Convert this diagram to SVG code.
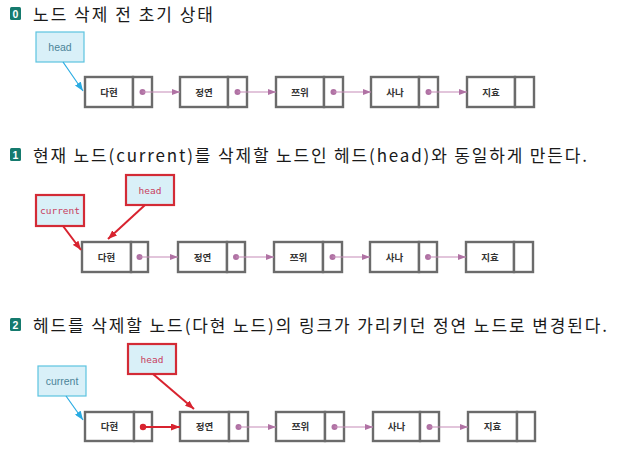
<svg xmlns="http://www.w3.org/2000/svg" width="619" height="452" viewBox="0 0 619 452">
<defs>
<marker id="mPur" markerWidth="8" markerHeight="6" refX="8" refY="3" orient="auto" markerUnits="userSpaceOnUse"><path d="M0,0 L8,3 L0,6 z" fill="#b072a4"/></marker>
<marker id="mRed" markerWidth="9" markerHeight="7" refX="9" refY="3.5" orient="auto" markerUnits="userSpaceOnUse"><path d="M0,0 L9,3.5 L0,7 z" fill="#d8232f"/></marker>
<marker id="mBlue" markerWidth="9" markerHeight="7" refX="9" refY="3.5" orient="auto" markerUnits="userSpaceOnUse"><path d="M0,0 L9,3.5 L0,7 z" fill="#29abe2"/></marker>
</defs>
<style>
.title{font-family:"Noto Sans CJK KR","Noto Sans",sans-serif;font-size:17px;fill:#1a1a1a}
.badge{fill:#157a6e}
.bnum{font-family:"Liberation Sans",sans-serif;font-size:10.5px;font-weight:bold;fill:#fff}
.cell{fill:#fff;stroke:#6b6b6b;stroke-width:2.4}
.lbl{font-family:"Noto Sans CJK KR",sans-serif;font-size:9.5px;font-weight:bold;fill:#333}
.bbox{fill:#d9f0f8;stroke:#5cc3e0;stroke-width:1.2}
.rbox{fill:#d9f0f8;stroke:#d32b36;stroke-width:2.2}
.btxt{font-family:"Liberation Sans","Noto Sans",sans-serif;font-size:10.5px;fill:#4b8499}
.rtxt{font-family:"DejaVu Sans Mono",monospace;font-size:9.5px;fill:#c84060}
.plink{stroke:#c58bb8;stroke-width:1.2;fill:none;marker-end:url(#mPur)}
.rlink{stroke:#d8232f;stroke-width:2;fill:none;marker-end:url(#mRed)}
.blink{stroke:#29abe2;stroke-width:1.2;fill:none;marker-end:url(#mBlue)}
.dot{fill:#b072a4}
.rdot{fill:#d8232f}
</style>

<!-- Titles -->
<g id="title0"><rect class="badge" x="10" y="7" width="11" height="13" rx="1.5"/><text class="bnum" x="15.5" y="17.5" text-anchor="middle">0</text><text class="title" x="33" y="21" textLength="180" lengthAdjust="spacing">노드 삭제 전 초기 상태</text></g>
<g id="title1"><rect class="badge" x="10" y="148" width="11" height="13" rx="1.5"/><text class="bnum" x="15.5" y="158.5" text-anchor="middle">1</text><text class="title" x="33" y="162" textLength="554" lengthAdjust="spacing">현재 노드(current)를 삭제할 노드인 헤드(head)와 동일하게 만든다.</text></g>
<g id="title2"><rect class="badge" x="10" y="318" width="11" height="13" rx="1.5"/><text class="bnum" x="15.5" y="328.5" text-anchor="middle">2</text><text class="title" x="33" y="332" textLength="574" lengthAdjust="spacing">헤드를 삭제할 노드(다현 노드)의 링크가 가리키던 정연 노드로 변경된다.</text></g>

<!-- Section 0 -->
<g id="s0-head"><rect class="bbox" x="36" y="32" width="48" height="30"/><text class="btxt" x="60" y="50.5" text-anchor="middle">head</text></g>
<g id="s0-n1"><rect class="cell" x="85" y="77" width="48" height="30"/><rect class="cell" x="133" y="77" width="19" height="30"/><text class="lbl" x="109" y="95.5" text-anchor="middle">다현</text></g>
<g id="s0-n2"><rect class="cell" x="180" y="77" width="48" height="30"/><rect class="cell" x="228" y="77" width="19" height="30"/><text class="lbl" x="204" y="95.5" text-anchor="middle">정연</text></g>
<g id="s0-n3"><rect class="cell" x="276" y="77" width="48" height="30"/><rect class="cell" x="324" y="77" width="19" height="30"/><text class="lbl" x="300" y="95.5" text-anchor="middle">쯔위</text></g>
<g id="s0-n4"><rect class="cell" x="371" y="77" width="48" height="30"/><rect class="cell" x="419" y="77" width="19" height="30"/><text class="lbl" x="395" y="95.5" text-anchor="middle">사나</text></g>
<g id="s0-n5"><rect class="cell" x="467" y="77" width="48" height="30"/><rect class="cell" x="515" y="77" width="19" height="30"/><text class="lbl" x="491" y="95.5" text-anchor="middle">지효</text></g>

<!-- Section 1 -->
<g id="s1-current"><rect class="rbox" x="36" y="195" width="48" height="31"/><text class="rtxt" x="60" y="214" text-anchor="middle">current</text></g>
<g id="s1-head"><rect class="rbox" x="126" y="175" width="48" height="30"/><text class="rtxt" x="150" y="193.5" text-anchor="middle">head</text></g>
<g id="s1-n1"><rect class="cell" x="82" y="242" width="49" height="30"/><rect class="cell" x="131" y="242" width="17" height="30"/><text class="lbl" x="106.5" y="260.5" text-anchor="middle">다현</text></g>
<g id="s1-n2"><rect class="cell" x="178" y="242" width="49" height="30"/><rect class="cell" x="227" y="242" width="18" height="30"/><text class="lbl" x="202.5" y="260.5" text-anchor="middle">정연</text></g>
<g id="s1-n3"><rect class="cell" x="274" y="242" width="49" height="30"/><rect class="cell" x="323" y="242" width="19" height="30"/><text class="lbl" x="298.5" y="260.5" text-anchor="middle">쯔위</text></g>
<g id="s1-n4"><rect class="cell" x="370" y="242" width="49" height="30"/><rect class="cell" x="419" y="242" width="18" height="30"/><text class="lbl" x="394.5" y="260.5" text-anchor="middle">사나</text></g>
<g id="s1-n5"><rect class="cell" x="466" y="242" width="48" height="30"/><rect class="cell" x="514" y="242" width="19" height="30"/><text class="lbl" x="490" y="260.5" text-anchor="middle">지효</text></g>

<!-- Section 2 -->
<g id="s2-current"><rect class="bbox" x="38" y="366" width="48" height="30"/><text class="btxt" x="62" y="384.5" text-anchor="middle">current</text></g>
<g id="s2-head"><rect class="rbox" x="128" y="344" width="48" height="30"/><text class="rtxt" x="152" y="362.5" text-anchor="middle">head</text></g>
<g id="s2-n1"><rect class="cell" x="85" y="412" width="49" height="29"/><rect class="cell" x="134" y="412" width="18" height="29"/><text class="lbl" x="109.5" y="430" text-anchor="middle">다현</text></g>
<g id="s2-n2"><rect class="cell" x="180" y="412" width="49" height="29"/><rect class="cell" x="229" y="412" width="19" height="29"/><text class="lbl" x="204.5" y="430" text-anchor="middle">정연</text></g>
<g id="s2-n3"><rect class="cell" x="276" y="412" width="49" height="29"/><rect class="cell" x="325" y="412" width="19" height="29"/><text class="lbl" x="300.5" y="430" text-anchor="middle">쯔위</text></g>
<g id="s2-n4"><rect class="cell" x="373" y="412" width="47" height="29"/><rect class="cell" x="420" y="412" width="19" height="29"/><text class="lbl" x="396.5" y="430" text-anchor="middle">사나</text></g>
<g id="s2-n5"><rect class="cell" x="468" y="412" width="49" height="29"/><rect class="cell" x="517" y="412" width="18" height="29"/><text class="lbl" x="492.5" y="430" text-anchor="middle">지효</text></g>

<!-- Connectors -->
<g id="connectors">
<line class="blink" x1="63" y1="62" x2="83" y2="91"/>
<circle class="dot" cx="142.5" cy="92" r="3"/><line class="plink" x1="142.5" y1="92" x2="180" y2="92"/>
<circle class="dot" cx="237.5" cy="92" r="3"/><line class="plink" x1="237.5" y1="92" x2="276" y2="92"/>
<circle class="dot" cx="333.5" cy="92" r="3"/><line class="plink" x1="333.5" y1="92" x2="371" y2="92"/>
<circle class="dot" cx="428.5" cy="92" r="3"/><line class="plink" x1="428.5" y1="92" x2="467" y2="92"/>

<line class="rlink" x1="63" y1="226" x2="81" y2="250"/>
<line class="rlink" x1="145" y1="205" x2="108" y2="239"/>
<circle class="dot" cx="139.5" cy="257" r="3"/><line class="plink" x1="139.5" y1="257" x2="178" y2="257"/>
<circle class="dot" cx="236" cy="257" r="3"/><line class="plink" x1="236" y1="257" x2="274" y2="257"/>
<circle class="dot" cx="332.5" cy="257" r="3"/><line class="plink" x1="332.5" y1="257" x2="370" y2="257"/>
<circle class="dot" cx="428" cy="257" r="3"/><line class="plink" x1="428" y1="257" x2="466" y2="257"/>

<line class="blink" x1="66" y1="396" x2="83" y2="420"/>
<line class="rlink" x1="153" y1="374" x2="194" y2="409"/>
<circle class="rdot" cx="143" cy="427" r="3.2"/><line class="rlink" x1="143" y1="427" x2="180" y2="427"/>
<circle class="dot" cx="238.5" cy="427" r="3"/><line class="plink" x1="238.5" y1="427" x2="276" y2="427"/>
<circle class="dot" cx="334.5" cy="427" r="3"/><line class="plink" x1="334.5" y1="427" x2="373" y2="427"/>
<circle class="dot" cx="429.5" cy="427" r="3"/><line class="plink" x1="429.5" y1="427" x2="468" y2="427"/>
</g>
</svg>
